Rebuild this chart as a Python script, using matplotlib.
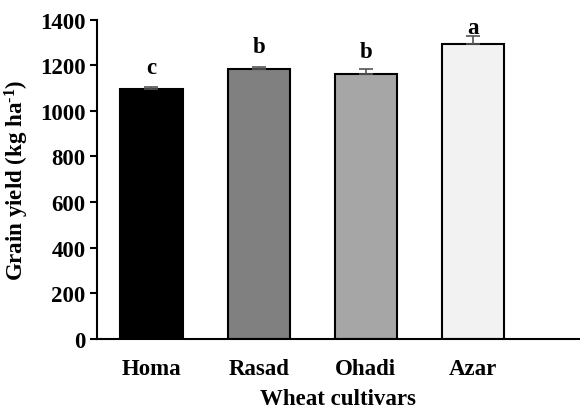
import matplotlib
matplotlib.use("Agg")
import matplotlib.pyplot as plt

cultivars = ["Homa", "Rasad", "Ohadi", "Azar"]
yield_vals = [1095, 1185, 1164, 1295]
errors = [10, 7, 20, 33]
letters = ["c", "b", "b", "a"]
colors = ["#000000", "#808080", "#a6a6a6", "#f2f2f2"]

plt.rcParams['font.family'] = ['Liberation Serif', 'DejaVu Serif']
plt.rcParams['font.weight'] = 'bold'
plt.rcParams['mathtext.fontset'] = 'custom'
plt.rcParams['mathtext.rm'] = 'Liberation Serif:bold'
plt.rcParams['mathtext.bf'] = 'Liberation Serif:bold'
plt.rcParams['mathtext.it'] = 'Liberation Serif:bold'

fs = 16.5
ymax = 1400
fig = plt.figure(figsize=(5.8, 4.14), dpi=100)
ax = fig.add_axes([0.167, 0.179, 0.833, 0.771])

x = range(len(cultivars))
ax.bar(x, yield_vals, width=0.58, color=colors, edgecolor="black", linewidth=1.5, zorder=2)
ax.errorbar(x, yield_vals, yerr=[[0]*len(errors), errors], fmt="none", ecolor="#555555",
            elinewidth=1.2, capsize=5, capthick=1.2, zorder=3)
for xi, v, l in zip(x, yield_vals, letters):
    ax.text(xi, min(v + 72, ymax - 58), l, ha="center", va="baseline",
            fontsize=fs, fontweight="bold")

ax.set_xlim(-0.51, 4.0)
ax.set_ylim(0, ymax)
ax.set_yticks(range(0, ymax + 1, 200))
ax.set_xticks(list(x))
ax.set_xticklabels(cultivars, fontsize=fs, fontweight="bold")
ax.tick_params(axis="y", labelsize=fs, direction="out", length=5, width=1.5, pad=3)
ax.tick_params(axis="x", length=0, pad=14)
for lab in ax.get_yticklabels():
    lab.set_fontweight("bold")
ax.spines["top"].set_visible(False)
ax.spines["right"].set_visible(False)
ax.spines["left"].set_linewidth(1.5)
ax.spines["bottom"].set_linewidth(1.5)
ax.set_xlabel("Wheat cultivars", fontsize=fs, fontweight="bold", labelpad=6)
ax.set_ylabel("Grain yield (kg ha$^{\\text{-}1}$)", fontsize=fs, fontweight="bold")
ax.yaxis.set_label_coords(-0.137, 0.5)

fig.savefig("out.png", dpi=100)
